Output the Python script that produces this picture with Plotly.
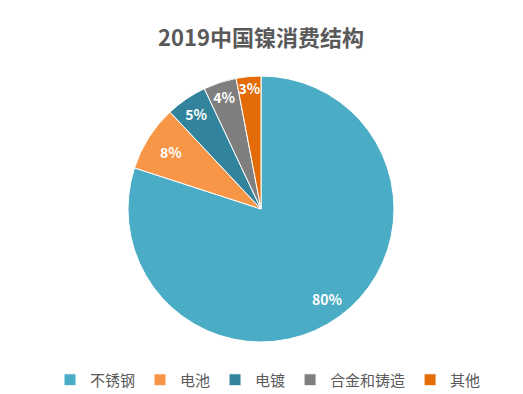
import plotly.graph_objects as go

categories = ["不锈钢", "电池", "电镀", "合金和铸造", "其他"]
values = [80, 8, 5, 4, 3]
colors = ["#4BACC6", "#F79646", "#31849B", "#7F7F7F", "#E36C09"]

FONT = "Noto Sans CJK SC"

# push the big slice's label outward (as in the reference) with padding lines/spaces
pad = "\u00a0<br>" * 4 + "\u2007" * 7
templates = [(pad if i == 0 else "") + "<b>%{value}%</b>" for i in range(len(values))]

fig = go.Figure(go.Pie(
    labels=categories,
    values=values,
    sort=False,
    direction="clockwise",
    rotation=0,
    marker=dict(colors=colors, line=dict(color="white", width=1)),
    texttemplate=templates,
    textposition="inside",
    insidetextorientation="horizontal",
    textfont=dict(color="white", size=14, family=FONT),
    domain=dict(x=[0, 506/523], y=[0, 1]),
))

fig.update_layout(
    width=523, height=394,
    paper_bgcolor="white",
    margin=dict(l=0, r=0, t=68, b=60, autoexpand=False),
    uniformtext=dict(minsize=14, mode="show"),
    title=dict(text="<b>2019中国镍消费结构</b>", x=253/523, xref="container", y=1 - 30/394, yref="container",
               yanchor="middle", xanchor="center",
               font=dict(family=FONT, size=22, color="#595959")),
    legend=dict(orientation="h", x=260/523, xref="container", xanchor="center",
                y=22/394, yref="container", yanchor="middle",
                font=dict(family=FONT, size=15, color="#595959"),
                traceorder="normal"),
    font=dict(family=FONT),
)

fig.write_html("out.html")
